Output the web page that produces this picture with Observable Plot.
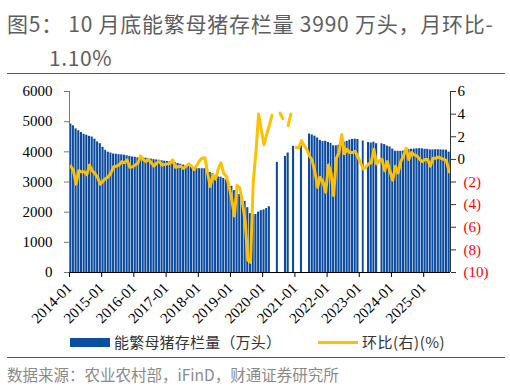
<!DOCTYPE html>
<html><head><meta charset="utf-8">
<script src="https://cdn.jsdelivr.net/npm/d3@7"></script>
<script src="https://cdn.jsdelivr.net/npm/@observablehq/plot@0.6"></script>
<style>
body{margin:0;width:510px;height:387px;position:relative;background:#fff;overflow:hidden;font-family:"Noto Sans CJK SC","Noto Sans",sans-serif;}
.abs{position:absolute;white-space:nowrap;}
#t1{left:7px;top:6px;font-size:21px;line-height:34px;color:#5e5e5e;letter-spacing:0.75px;}
#t2{left:49px;top:40px;font-size:21px;line-height:34px;color:#5e5e5e;letter-spacing:0.6px;}
.rule{position:absolute;left:7px;width:498px;height:0;border-top:1.5px solid #2563b0;}
#chart{position:absolute;left:0;top:78px;}
#chart svg text{font-family:"Liberation Serif","Times New Roman","DejaVu Serif",serif !important;font-size:15px !important;}
.lg{font-size:15px;line-height:18px;color:#333;}
#src{left:7px;top:364px;font-size:15.5px;line-height:20px;color:#8a8a8a;}
</style></head>
<body>
<div id="t1" class="abs">图5： 10 月底能繁母猪存栏量 3990 万头，月环比-</div>
<div id="t2" class="abs">1.10%</div>
<div class="rule" style="top:73px"></div>
<div id="chart"></div>
<div class="abs" style="left:70px;top:338px;width:40px;height:9px;background:#0b4ea2"></div>
<div class="abs lg" style="left:114px;top:333px;letter-spacing:0.2px">能繁母猪存栏量（万头）</div>
<div class="abs" style="left:318px;top:341px;width:40px;height:3px;background:#ffc000"></div>
<div class="abs lg" style="left:362px;top:333px;letter-spacing:0.5px">环比(右)(%)</div>
<div class="rule" style="top:357px"></div>
<div id="src" class="abs">数据来源：农业农村部，iFinD，财通证券研究所</div>
<script>
// 能繁母猪存栏量（万头），2014-01 … 2025-10，null = no data
const stockValues = [
  4918, 4865, 4760, 4700, 4640, 4580, 4550, 4515, 4490, 4420, 4330, 4270,
  4150, 4050, 3990, 3960, 3930, 3920, 3905, 3900, 3890, 3870, 3850, 3830,
  3820, 3800, 3800, 3795, 3790, 3780, 3760, 3740, 3730, 3720, 3705, 3690,
  3680, 3670, 3665, 3640, 3615, 3590, 3560, 3540, 3520, 3500, 3470, 3450,
  3440, 3440, 3440, 3400, 3320, 3270, 3200, 3170, 3160, 3120, 3070, 2935,
  2859, 2716, 2654, 2588, 2482, 2358, 2148, 1952, 1913, 1925, 2000, 2050,
  2075, 2120, 2180, null, null, 3650, null, null, 3850, 3960, null, 4180,
  null, null, 4200, null, null, 4590, 4560, 4520, 4460, 4380, 4340, 4350,
  4310, 4280, 4200, 4200, 4220, 4300, 4320, 4350, 4390, 4410, 4420, 4410,
  null, 4360, null, 4310, 4290, 4320, 4270, null, 4265, 4240, 4190, 4160,
  4090, 4020, 4020, 4015, 4025, 4065, 4070, 4085, 4090, 4100, 4105, 4100,
  4085, 4085, 4065, 4065, 4070, 4070, 4065, 4060, 4055, 3990
];
// 环比（%），右轴
const momValues = [
  -0.6, -1.0, -2.2, -1.0, -1.1, -1.1, -1.35, -0.5, -1.0, -1.25, -1.6, -2.2,
  -1.9, -1.7, -1.55, -1.2, -0.65, -0.6, -0.5, -0.2, -0.3, -0.05, -0.7, -0.65,
  -0.5, -0.35, 0.3, 0.0, -0.2, 0.0, -0.3, -0.6, -0.3, -0.2, -0.5, -0.45,
  -0.4, -0.35, -0.05, -0.7, -0.65, -0.6, -0.8, -0.6, -0.4, -0.6, -0.9, -0.5,
  -0.1, 0.1, 0.15, -1.2, -2.4, -1.4, -1.75, -0.8, -0.3, -1.25, -1.5, -2.4,
  -3.6, -5.0, -2.3, -2.5, -3.8, -5.4, -8.9, -9.1, -2.0, 0.6, 4.0, 2.6,
  1.3, 2.2, 3.0, 3.9, null, null, 4.1, 3.6, null, 3.0, 4.0, null,
  1.05, 1.0, 1.65, 1.2, 0.9, 0.3, -0.1, -1.15, -2.46, -1.6, -2.0, -2.9,
  -0.5, -1.2, -3.2, 0.1, 0.6, 2.2, 0.5, 0.9, 0.6, 0.6, 0.7, 0.2,
  -0.3, -0.85, -0.7, -0.4, -0.3, 0.9, -0.4, -0.15, 0.0, -1.0, -0.2, -1.1,
  -1.85, -0.6, -1.2, -0.2, 0.3, 1.0, 0.0, 0.6, 0.4, 0.3, 0.0, -0.2,
  0.0, 0.0, -0.6, 0.1, 0.1, 0.2, 0.1, 0.0, -0.1, -1.1
];
const leftTicks = [0, 1000, 2000, 3000, 4000, 5000, 6000];
const rightTicks = [6, 4, 2, 0, -2, -4, -6, -8, -10];
const rightMin = -10, rightMax = 6;
const startMonth = new Date(Date.UTC(2014, 0, 1));
const endMonth = new Date(Date.UTC(2025, 10, 1));

const months = d3.utcMonth.range(startMonth, endMonth);
const data = months.map((d, i) => ({date: d, stock: stockValues[i], mom: momValues[i]}));
const yMax = 6000;
const toLeft = v => (v - rightMin) / (rightMax - rightMin) * yMax;
const mid = d => new Date((+d + +d3.utcMonth.offset(d, 1)) / 2);
const yearTicks = d3.utcYear.range(startMonth, endMonth);

const chart = Plot.plot({
  width: 510, height: 255,
  marginLeft: 69, marginRight: 60, marginTop: 13, marginBottom: 61,
  x: {type: "utc", domain: [startMonth, endMonth], label: null},
  y: {domain: [0, yMax], label: null},
  style: {fontFamily: "'Liberation Serif', 'Times New Roman', serif", fontSize: "15px", color: "#000", background: "transparent"},
  marks: [
    Plot.rectY(data.filter(d => d.stock != null), {x: "date", y: "stock", interval: d3.utcMonth, fill: "#0a4a9f", insetLeft: 0.3, insetRight: 0.3}),
    Plot.line(data, {x: d => mid(d.date), y: d => d.mom == null ? NaN : toLeft(d.mom), stroke: "#ffc000", strokeWidth: 3}),
    Plot.ruleY([0], {stroke: "#000"}),
    Plot.ruleX([startMonth], {stroke: "#777"}),
    Plot.ruleX([endMonth], {stroke: "#333"}),
    Plot.axisY(leftTicks, {anchor: "left", label: null, tickSize: 5, tickPadding: 12, tickFormat: d => String(d), stroke: "#777"}),
    Plot.axisY(rightTicks.map(toLeft), {anchor: "right", label: null, tickSize: 5, tickFormat: () => "", stroke: "#333"}),
    Plot.text(rightTicks.filter(v => v >= 0), {y: toLeft, text: d => String(d), frameAnchor: "right", textAnchor: "start", dx: 7, fill: "#000"}),
    Plot.text(rightTicks.filter(v => v < 0), {y: toLeft, text: d => `(${-d})`, frameAnchor: "right", textAnchor: "start", dx: 13, fill: "#ff0000"}),
    Plot.axisX(yearTicks, {label: null, tickRotate: -45, tickSize: 5, tickPadding: 8, tickFormat: d3.utcFormat("%Y-%m")})
  ]
});
document.getElementById("chart").appendChild(chart);
</script>
</body></html>
